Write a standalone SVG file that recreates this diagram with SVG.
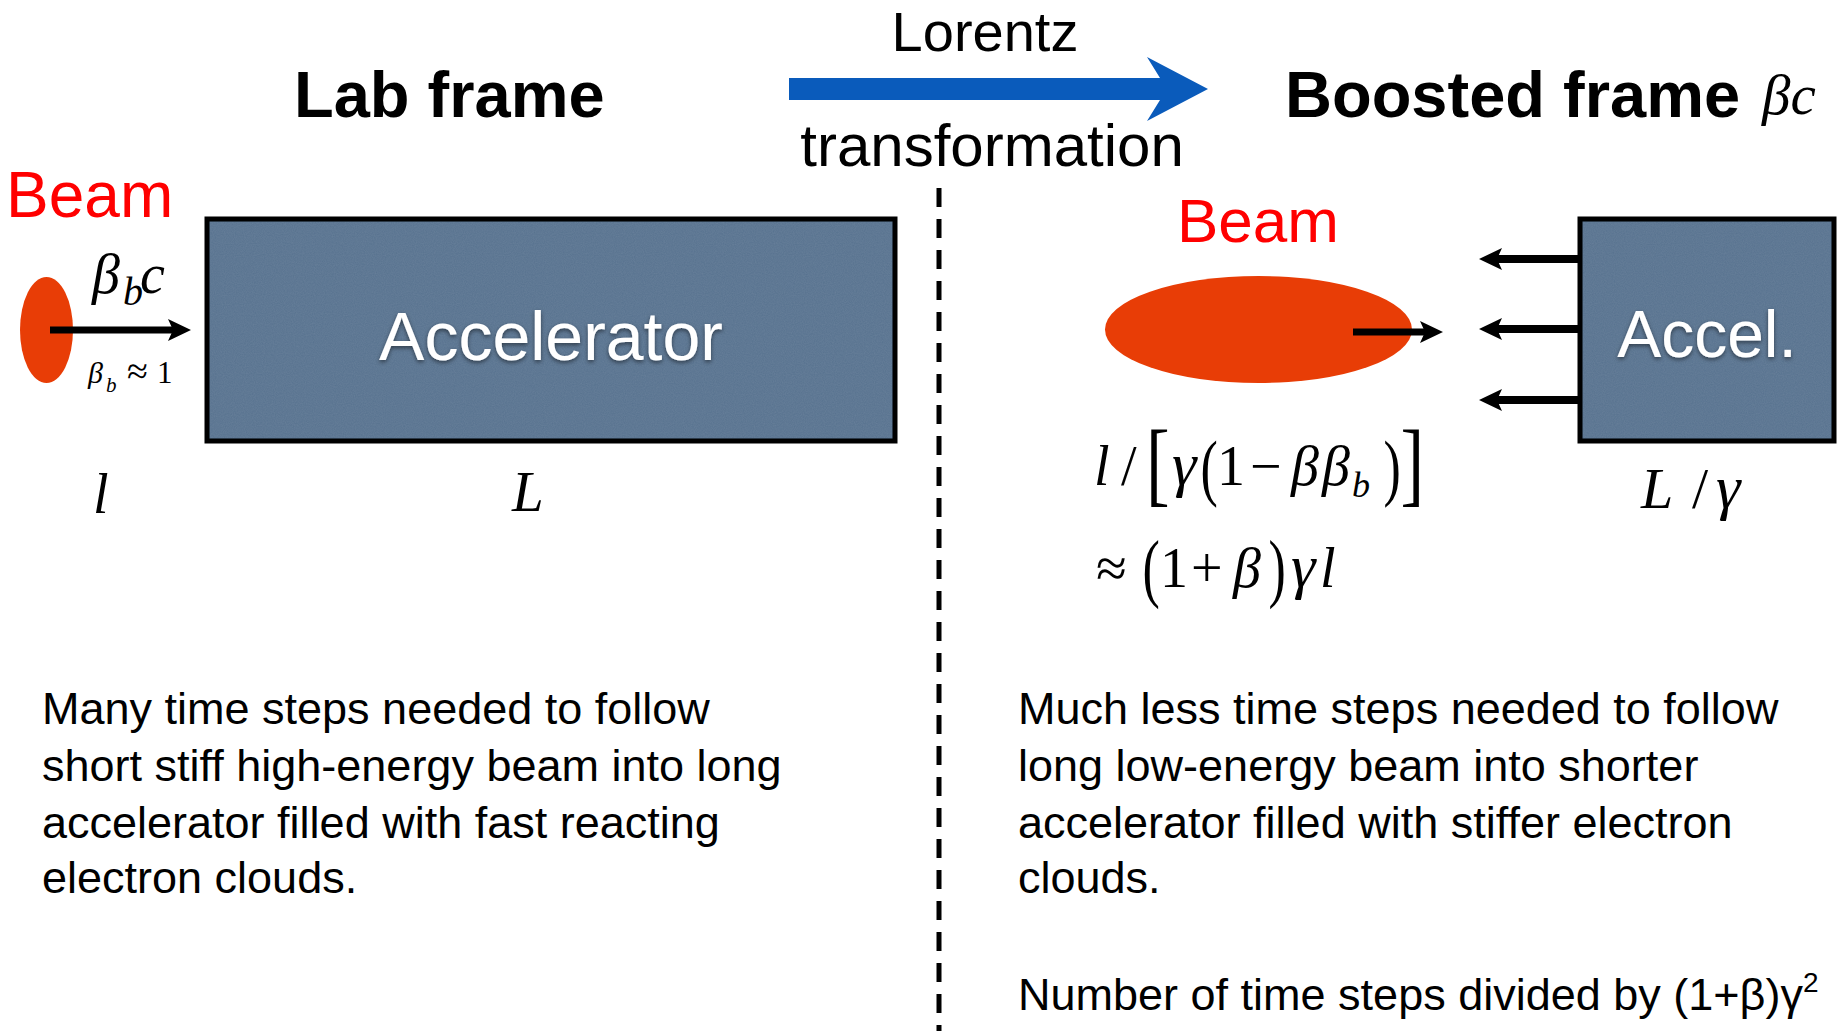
<svg xmlns="http://www.w3.org/2000/svg" width="1841" height="1031" viewBox="0 0 1841 1031">
<style>
.sans{font-family:"Liberation Sans",Arial,sans-serif}
.title{font-family:"Liberation Sans",Arial,sans-serif;font-weight:bold;font-size:65px;fill:#000}
.body{font-family:"Liberation Sans",Arial,sans-serif;font-size:45px;fill:#000}
.math{font-family:"Liberation Serif","Times New Roman",serif;fill:#000}
.it{font-style:italic}
.red{font-family:"Liberation Sans",Arial,sans-serif;fill:#FF0000}
.box{fill:#57728F;stroke:#000;stroke-width:5}
.boxlabel{font-family:"Liberation Sans",Arial,sans-serif;fill:#fff;text-anchor:middle}
.beam{fill:#E83D06}
.arr{stroke:#000;fill:none}
</style>
<defs>
<marker id="head" viewBox="0 0 23 22" refX="5" refY="11" markerWidth="23" markerHeight="22" markerUnits="userSpaceOnUse" orient="auto">
<path d="M0,0 L23,11 L0,22 L5,11 z" fill="#000"/>
</marker>
<filter id="noise" x="0" y="0" width="100%" height="100%">
<feTurbulence type="fractalNoise" baseFrequency="0.9" numOctaves="2" seed="3" result="n"/>
<feColorMatrix type="matrix" values="0 0 0 0 0.45  0 0 0 0 0.5  0 0 0 0 0.58  0 0 0 0.35 0"/>
</filter>
<filter id="shadow" x="-10%" y="-20%" width="120%" height="150%">
<feDropShadow dx="0" dy="2" stdDeviation="2" flood-color="#000" flood-opacity="0.5"/>
</filter>
</defs>
<rect width="1841" height="1031" fill="#fff"/>

<g id="lab-title"><text class="title" x="294" y="117">Lab frame</text></g>
<g id="boosted-title">
<text class="title" x="1285" y="117">Boosted frame</text>
<text class="math it" x="1762" y="114" font-size="57">βc</text>
</g>

<g id="lorentz-label">
<text class="sans" x="985" y="51" font-size="56" text-anchor="middle">Lorentz</text>
<text class="sans" x="992" y="166" font-size="60" text-anchor="middle">transformation</text>
</g>

<g id="divider">
<line x1="939" y1="188" x2="939" y2="1031" stroke="#000" stroke-width="5" stroke-dasharray="19 12"/>
</g>

<g id="lab-beam">
<text class="red" x="6" y="217" font-size="64">Beam</text>
<ellipse class="beam" cx="46.5" cy="330" rx="26.5" ry="53"/>
<text class="math it" y="293"><tspan x="92" font-size="56">β</tspan><tspan x="123" y="305" font-size="40">b</tspan><tspan x="140" y="293" font-size="56">c</tspan></text>
<text class="math" y="383"><tspan class="it" x="88" font-size="30">β</tspan><tspan class="it" x="106" y="392" font-size="21">b</tspan><tspan x="127" y="384" font-size="38">≈</tspan><tspan x="157" y="383" font-size="31">1</tspan></text>
<text class="math it" x="93" y="513" font-size="56">l</text>
</g>

<g id="lab-accelerator">
<rect class="box" x="207" y="219" width="688" height="222"/>
<rect x="210" y="222" width="682" height="216" filter="url(#noise)" opacity="0.5"/>
<text class="boxlabel" x="551" y="360" font-size="68" filter="url(#shadow)">Accelerator</text>
<text class="math it" x="512" y="511" font-size="57">L</text>
</g>

<g id="boosted-beam">
<text class="red" x="1258" y="242" font-size="62" text-anchor="middle">Beam</text>
<ellipse class="beam" cx="1258.5" cy="329.5" rx="153.5" ry="53.5"/>
<text class="math" y="485" font-size="56"><tspan class="it" x="1094">l</tspan><tspan x="1121">/</tspan></text>
<text class="math" font-size="94" transform="translate(1146,495) scale(0.755,1)">[</text>
<text class="math it" x="1172" y="485" font-size="62">γ</text>
<text class="math" font-size="73" transform="translate(1200.5,492) scale(0.712,1)">(</text>
<text class="math" y="485" font-size="56"><tspan x="1217">1</tspan><tspan x="1250">−</tspan><tspan class="it" x="1291">β</tspan><tspan class="it" x="1322">β</tspan><tspan class="it" x="1352" y="497" font-size="36">b</tspan></text>
<text class="math" font-size="73" transform="translate(1383.5,492) scale(0.712,1)">)</text>
<text class="math" font-size="94" transform="translate(1400.6,495) scale(0.755,1)">]</text>
<text class="math" x="1096" y="587" font-size="56">≈</text>
<text class="math" font-size="76" transform="translate(1142.5,593.4) scale(0.684,1)">(</text>
<text class="math" y="587" font-size="56"><tspan x="1160">1</tspan><tspan x="1191">+</tspan><tspan class="it" x="1233">β</tspan></text>
<text class="math" font-size="76" transform="translate(1268.5,593.4) scale(0.684,1)">)</text>
<text class="math it" y="587"><tspan x="1291" font-size="62">γ</tspan><tspan x="1320" font-size="56">l</tspan></text>
</g>

<g id="boosted-accelerator">
<rect class="box" x="1580" y="219" width="254" height="222"/>
<rect x="1583" y="222" width="248" height="216" filter="url(#noise)" opacity="0.5"/>
<text class="boxlabel" x="1707" y="357" font-size="66" filter="url(#shadow)">Accel.</text>
<text class="math" y="508" font-size="58"><tspan class="it" x="1641">L</tspan><tspan x="1692">/</tspan><tspan class="it" x="1716" font-size="62">γ</tspan></text>
</g>

<g id="connectors">
<path d="M789,78 H1160 L1147,57 L1208,89 L1147,121 L1160,100 H789 Z" fill="#0A5BBB"/>
<line class="arr" x1="50" y1="330" x2="173" y2="330" stroke-width="7" marker-end="url(#head)"/>
<line class="arr" x1="1353" y1="332" x2="1425" y2="332" stroke-width="7" marker-end="url(#head)"/>
<line class="arr" x1="1580" y1="259" x2="1497" y2="259" stroke-width="8" marker-end="url(#head)"/>
<line class="arr" x1="1580" y1="329" x2="1497" y2="329" stroke-width="8" marker-end="url(#head)"/>
<line class="arr" x1="1580" y1="400" x2="1497" y2="400" stroke-width="8" marker-end="url(#head)"/>
</g>

<g id="lab-description">
<text class="body"><tspan x="42" y="724">Many time steps needed to follow</tspan><tspan x="42" y="781">short stiff high-energy beam into long</tspan><tspan x="42" y="838">accelerator filled with fast reacting</tspan><tspan x="42" y="893">electron clouds.</tspan></text>
</g>

<g id="boosted-description">
<text class="body"><tspan x="1018" y="724">Much less time steps needed to follow</tspan><tspan x="1018" y="781">long low-energy beam into shorter</tspan><tspan x="1018" y="838">accelerator filled with stiffer electron</tspan><tspan x="1018" y="893">clouds.</tspan></text>
<text class="body" x="1018" y="1010" font-size="43.4">Number of time steps divided by (1+β)γ<tspan font-size="28" dy="-18">2</tspan></text>
</g>
</svg>
